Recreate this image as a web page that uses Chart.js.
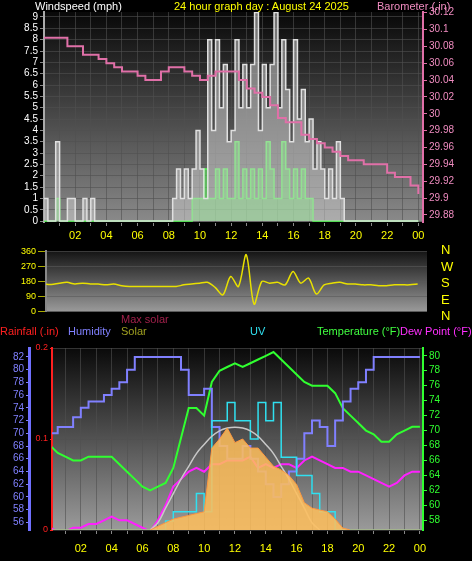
<!DOCTYPE html>
<html>
<head>
<meta charset="utf-8">
<script src="https://cdn.jsdelivr.net/npm/chart.js@4.4.1/dist/chart.umd.min.js"></script>
<style>
  body { margin:0; background:#000; width:472px; height:561px; overflow:hidden; position:relative; font-family:"Liberation Sans", sans-serif; }
  .box { position:absolute; left:0; width:472px; }
  .t { position:absolute; font-size:11px; white-space:nowrap; line-height:12px; }
</style>
</head>
<body>
<div class="box" style="top:0;height:250px"><canvas id="wind"></canvas></div>
<div class="box" style="top:244px;height:75px"><canvas id="dir"></canvas></div>
<div class="box" style="top:340px;height:221px"><canvas id="temp"></canvas></div>

<div class="t" style="left:35px;top:0;color:#fff">Windspeed (mph)</div>
<div class="t" style="left:174px;top:0;color:#ffff00">24 hour graph day : August 24 2025</div>
<div class="t" style="left:377px;top:0;color:#f08cc0">Barometer (.in)</div>
<div class="t" style="left:441px;top:242px;color:#ffff00;font-size:13px;line-height:16.5px">N<br>W<br>S<br>E<br>N</div>
<div class="t" style="left:0;top:325px;color:#ff2020">Rainfall (.in)</div>
<div class="t" style="left:68px;top:325px;color:#8080ff">Humidity</div>
<div class="t" style="left:121px;top:313px;color:#a0204a">Max solar</div>
<div class="t" style="left:121px;top:325px;color:#a0a020">Solar</div>
<div class="t" style="left:250px;top:325px;color:#30e0f0">UV</div>
<div class="t" style="left:317px;top:325px;color:#40ff40">Temperature (°F)</div>
<div class="t" style="left:400px;top:325px;color:#ff30ff">Dew Point (°F)</div>

<script>
// 15 minute samples, hour 0 to 24
const gust = [
  1,0,0,3.5, 0,0,1,1, 0,0,1,0, 1,0,0,0, 0,0,0,0, 0,0,0,0, 0,0,0,0, 0,0,0,0,
  0,1,2.3,1, 2.3,1,2.3,4, 2.3,1,8,4, 8,5,6.9,3.5, 4,8,5,6.9, 5,6.9,9.2,4,
  6.9,5,6.9,9.2, 5,8,5.8,3.5, 8,4.5,5.8,3.5, 4.5,2.3,3.5,2.3, 1,2.3,1,3.5,
  1,0,0,0, 0,0,0,0, 0,0,0,0, 0,0,0,0, 0,0,0,0, 0
]
const avgWind = [
  0,0,0,1, 0,0,0,0, 0,0,0,0, 0,0,0,0, 0,0,0,0, 0,0,0,0, 0,0,0,0, 0,0,0,0,
  0,0,0,0, 0,0,1,1, 1,2.3,1,1, 2.3,1,2.3,1, 1,3.5,1,2.3, 1,2.3,1,2.3,
  1,3.5,2.3,1, 1,3.5,2.3,1, 2.3,1,2.3,1, 1,0,0,0, 0,0,0,0,
  0,0,0,0, 0,0,0,0, 0,0,0,0, 0,0,0,0, 0,0,0,0, 0
]
// 30 minute samples, hour 0 to 24
const pressure = [30.09,30.09,30.09,30.08,30.08,30.07,30.07,30.065,30.06,30.055,30.05,30.05,30.045,30.04,30.04,30.05,
  30.055,30.055,30.05,30.045,30.04,30.045,30.05,30.05,30.05,30.04,30.03,30.025,30.02,30.01,29.995,29.99,
  29.99,29.975,29.97,29.965,29.96,29.955,29.95,29.945,29.945,29.94,29.94,29.94,29.93,29.925,29.925,29.915,29.905]
const direction = [165,162,170,175,165,170,165,165,160,165,155,150,150,150,150,150,150,150,160,165,
  170,175,145,100,210,150,340,45,180,170,175,160,240,170,200,105,160,170,175,165,165,160,160,155,155,160,160,160,165]
const temperature = [68,67,66.5,66,66,66.5,66.5,66.5,66.5,65.5,64.5,63.5,62.5,62,62.5,63,65,69,73,73,72,76.5,78,78.5,79,
  78.5,79,79.5,80,80.5,79.5,78.5,77.5,76.5,76,76,76,75,73,72,71,70,69.5,68.5,68.5,69.5,70,70.5,70.5]
const humidity = [70,71,71,72.5,74,75,75,76,77,78,80,82,82,82,82,82,82,80,76,76,77,71,68,66,66,68,66,64,62,60,
  62,64,66,70,72,71,68,72,75,77,78,80,82,82,82,82,82,82,82]
const dewPoint = [57,56.5,56.5,57,57,57.5,57.5,58,58.5,58,58,57.5,57,56.5,58,60,62.5,63.5,64.5,65,64.5,65.5,65.5,66,66,
  66,66.5,65,65.5,65,65.5,65.5,65,66,66.5,66,65.5,65,65,64.5,64.5,64,63.5,63,62.5,63,64,64.5,64.5]
const solar = [0,0,0,0,0,0,0,0,0,0,0,0,0,0,20,40,60,70,80,90,100,450,500,560,480,500,450,450,400,350,330,300,250,
  150,120,110,100,60,10,0,0,0,0,0,0,0,0,0,0]
const maxSolar = [null,null,null,null,null,null,null,null,null,null,null,null,null,0,40,120,200,280,350,420,470,515,545,560,565,
  560,545,515,470,420,350,280,200,120,40,0,null,null,null,null,null,null,null,null,null,null,null,null,null]
const uv = [0,0,0,0,0,0,0,0,0,0,0,0,0,0,0,0.5,1,1,1,2,1,6,6,7,6,6,5,7,6,7,4,4,3,3,2,1,1,0,0,0,0,0,0,0,0,0,0,0,0]
const rainfall = [null,null,null,null,null,null,null,null,null,null,null,null,null,0,0,0,0,0,0,0,0,0,0,0,0,0,0,0,0,0,0,0,0,0,0,0,0,0,0,0,null,null,null,null,null,null,null,null,null]

const windTicks = [0,0.5,1,1.5,2,2.5,3,3.5,4,4.5,5,5.5,6,6.5,7,7.5,8,8.5,9]
const pressureTicks = [29.88,29.9,29.92,29.94,29.96,29.98,30,30.02,30.04,30.06,30.08,30.1,30.12]
const dirTicks = [0,90,180,270,360]
const humTicks = [56,58,60,62,64,66,68,70,72,74,76,78,80,82]
const rainTicks = [0,0.1,0.2]
const tempTicks = [58,60,62,64,66,68,70,72,74,76,78,80]
const hours = [1,2,3,4,5,6,7,8,9,10,11,12,13,14,15,16,17,18,19,20,21,22,23,24]

const q = (arr, step) => arr.map((v, i) => ({ x: i * step, y: v }))
const font = { family: "Liberation Sans", size: 10 }

function fixed(list) { return s => { s.ticks = list.map(v => ({ value: v })) } }
function width(w) { return s => { s.width = w } }
function hourLabel(v) { v = Math.round(v); return v % 2 === 0 ? String(v % 24).padStart(2, '0') : '' }
const plain = v => String(+(+v).toFixed(2))

const shade = {
  id: 'shade',
  beforeDraw(chart, args, opts) {
    const a = chart.chartArea, c = chart.ctx
    const g = c.createLinearGradient(0, a.top, 0, a.bottom)
    g.addColorStop(0, opts.top)
    g.addColorStop(1, opts.bottom)
    c.save()
    c.fillStyle = g
    c.fillRect(a.left, a.top, a.right - a.left, a.bottom - a.top)
    c.restore()
  }
}
Chart.register(shade)
Chart.defaults.animation = false
Chart.defaults.responsive = true
Chart.defaults.maintainAspectRatio = false
Chart.defaults.plugins.legend.display = false
Chart.defaults.plugins.tooltip.enabled = false
Chart.defaults.elements.point.radius = 0

const grid = { color: 'rgba(80,80,80,0.6)', tickColor: '#888', tickLength: 4, drawTicks: true }
const yt = (color, extra) => ({ color, font, autoSkip: false, callback: plain, padding: 2, ...extra })
const xt = extra => ({ color: '#ffff00', font: { family: "Liberation Sans", size: 11 }, callback: hourLabel, maxRotation: 0, autoSkip: false, ...extra })

new Chart(document.getElementById('wind'), {
  type: 'line',
  data: { datasets: [
    { data: q(pressure, 0.5), yAxisID: 'p', borderColor: '#e070a8', borderWidth: 2, stepped: true },
    { data: q(gust, 0.25), borderColor: '#e0e0e0', backgroundColor: 'rgba(200,200,200,0.55)', fill: 'origin', borderWidth: 1.5, stepped: true },
    { data: q(avgWind, 0.25), borderColor: '#50ff50', backgroundColor: 'rgba(80,255,80,0.5)', fill: 'origin', borderWidth: 1.5, stepped: true }
  ] },
  options: {
    layout: { padding: { top: 12 } },
    plugins: { shade: { top: '#080808', bottom: '#8a8a8a' } },
    scales: {
      x: { type: 'linear', min: 0, max: 24.3, afterBuildTicks: fixed(hours), afterFit: s => { s.height = 28 },
        ticks: xt(), grid },
      y: { min: -0.04, max: 9.22, afterBuildTicks: fixed(windTicks), afterFit: width(44),
        ticks: yt('#fff'), grid, border: { color: '#aaa', width: 2 } },
      p: { position: 'right', min: 29.8717, max: 30.1206, afterBuildTicks: fixed(pressureTicks), afterFit: width(49),
        ticks: yt('#f08cc0'), grid: { drawOnChartArea: false, tickColor: '#e070a8', tickLength: 4 }, border: { color: '#e070a8', width: 2 } }
    }
  }
})

new Chart(document.getElementById('dir'), {
  type: 'line',
  data: { datasets: [
    { data: q(direction, 0.5), borderColor: '#e8e000', borderWidth: 1.5, tension: 0.3 }
  ] },
  options: {
    layout: { padding: { top: 4, bottom: 6, right: 45 } },
    plugins: { shade: { top: '#151515', bottom: '#9a9a9a' } },
    scales: {
      x: { type: 'linear', min: 0.15, max: 24.6, display: false },
      y: { min: 0, max: 360, afterBuildTicks: fixed(dirTicks), afterFit: width(46),
        ticks: yt('#ffff00', { font: { family: "Liberation Sans", size: 9 } }), grid: { color: 'rgba(90,90,90,0.6)', tickColor: '#aa0' }, border: { color: '#888', width: 2 } }
    }
  }
})

new Chart(document.getElementById('temp'), {
  type: 'line',
  data: { datasets: [
    { data: q(rainfall, 0.5), yAxisID: 'r', borderColor: '#ff1010', borderWidth: 4 },
    { data: q(solar, 0.5), yAxisID: 's', borderColor: '#ff9840', backgroundColor: 'rgba(255,190,90,0.85)', fill: 'origin', borderWidth: 1 },
    { data: q(maxSolar, 0.5), yAxisID: 's', borderColor: '#c8c8c8', borderWidth: 1.5, tension: 0.4 },
    { data: q(uv, 0.5), yAxisID: 'u', borderColor: '#30e0f0', borderWidth: 1.5, stepped: true },
    { data: q(humidity, 0.5), yAxisID: 'h', borderColor: '#8080ff', borderWidth: 2, stepped: true },
    { data: q(dewPoint, 0.5), yAxisID: 't', borderColor: '#ff20ff', borderWidth: 2 },
    { data: q(temperature, 0.5), yAxisID: 't', borderColor: '#30ff30', borderWidth: 2 }
  ] },
  options: {
    layout: { padding: { top: 3 } },
    plugins: { shade: { top: '#0a0a0a', bottom: '#9a9a9a' } },
    scales: {
      x: { type: 'linear', min: 0.13, max: 24.2, afterBuildTicks: fixed(hours), afterFit: s => { s.height = 31 },
        ticks: xt({ padding: 8 }), grid },
      r: { position: 'left', min: 0, max: 0.2, afterBuildTicks: fixed(rainTicks), afterFit: width(23),
        ticks: yt('#ff2020', { font: { family: "Liberation Sans", size: 9 } }), grid: { color: 'rgba(80,80,80,0.6)', tickColor: '#ff2020', tickLength: 2 }, border: { color: '#ff2020', width: 2 } },
      h: { position: 'left', min: 54.8, max: 83.4, afterBuildTicks: fixed(humTicks), afterFit: width(29),
        ticks: yt('#8080ff'), grid: { drawOnChartArea: false, tickColor: '#8080ff', tickLength: 3 }, border: { color: '#7070ff', width: 3 } },
      t: { position: 'right', min: 56.7, max: 81.04, afterBuildTicks: fixed(tempTicks), afterFit: width(49),
        ticks: yt('#30ff30'), grid: { drawOnChartArea: false, tickColor: '#30ff30', tickLength: 4 }, border: { color: '#30ff30', width: 2 } },
      s: { display: false, min: 0, max: 1000 },
      u: { display: false, min: 0, max: 10 }
    }
  }
})
</script>
</body>
</html>
